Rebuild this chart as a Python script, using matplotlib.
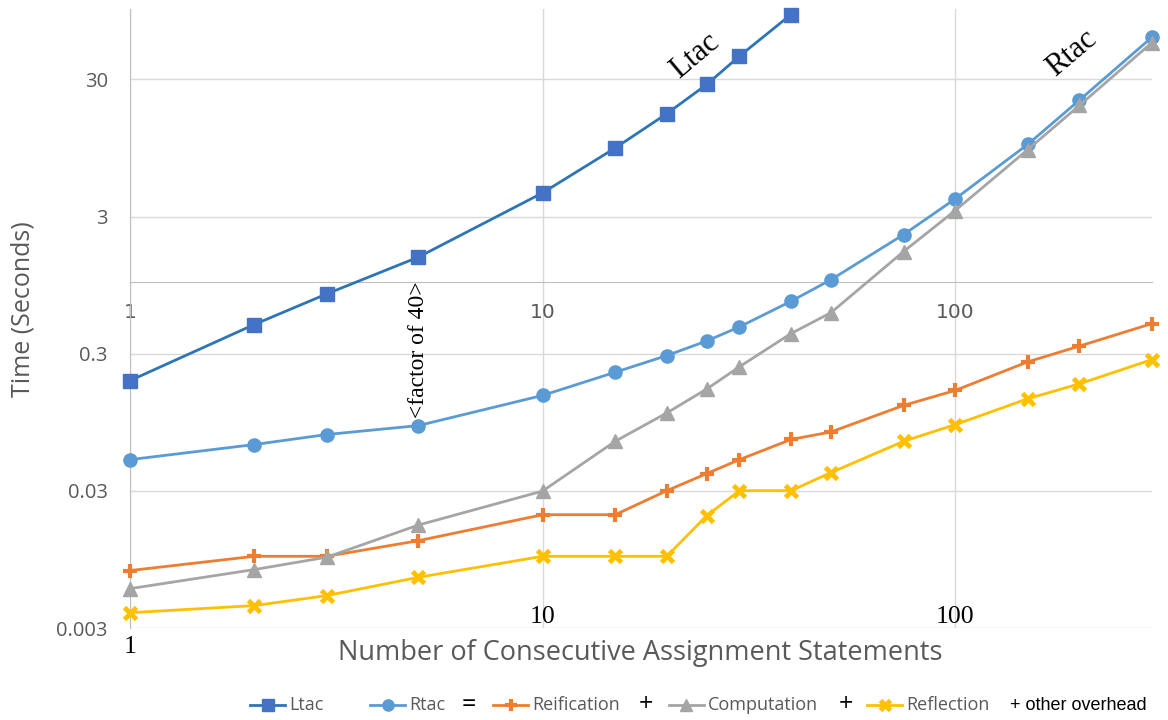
import matplotlib
matplotlib.use('Agg')
import matplotlib.pyplot as plt
from matplotlib.lines import Line2D

# statements per run
x_ltac = [1, 2, 3, 5, 10, 15, 20, 25, 30, 40]
x_all = [1, 2, 3, 5, 10, 15, 20, 25, 30, 40, 50, 75, 100, 150, 200, 300]

# time in seconds
ltac = [0.191, 0.49, 0.82, 1.52, 4.47, 9.5, 16.9, 27.6, 44.4, 89.3]
rtac = [0.0507, 0.0653, 0.0773, 0.0898, 0.149, 0.220, 0.291, 0.372, 0.471,
        0.724, 1.04, 2.22, 4.04, 10.1, 21.2, 61.1]
reification = [0.00787, 0.0100, 0.0100, 0.0130, 0.0201, 0.0201, 0.0301, 0.0401,
               0.0507, 0.0711, 0.0807, 0.126, 0.162, 0.262, 0.341, 0.498]
computation = [0.00581, 0.0080, 0.00985, 0.0169, 0.0299, 0.069, 0.111, 0.166,
               0.241, 0.421, 0.598, 1.67, 3.32, 9.25, 19.4, 55.8]
reflection = [0.00388, 0.00437, 0.00517, 0.00703, 0.0100, 0.0100, 0.0100, 0.0198,
              0.0301, 0.0301, 0.0408, 0.069, 0.0912, 0.141, 0.181, 0.272]

y_ticks = [0.003, 0.03, 0.3, 3, 30]
y_ticklabels = ['0.003', '0.03', '0.3', '3', '30']
x_ticks = [1, 10, 100]
x_ticklabels = ['1', '10', '100']

SANS = 'Open Sans'
SERIF = 'Liberation Serif'
GRAY_TXT = '#595959'

W, H = 1168, 720
fig = plt.figure(figsize=(W / 100, H / 100), dpi=100)
ax = fig.add_axes([130 / W, 1 - 628 / H, (1152 - 130) / W, (628 - 9) / H])

styles = [
    ('Ltac', x_ltac, ltac, dict(color='#2E75B6', marker='s', ms=9.5, mfc='#4472C4', mec='#4472C4')),
    ('Rtac', x_all, rtac, dict(color='#5B9BD5', marker='o', ms=9.5, mfc='#5B9BD5', mec='#5B9BD5')),
    ('Reification', x_all, reification, dict(color='#ED7D31', marker='+', ms=10, mew=3)),
    ('Computation', x_all, computation, dict(color='#A5A5A5', marker='^', ms=10, mfc='#A5A5A5', mec='#A5A5A5')),
    ('Reflection', x_all, reflection, dict(color='#FFC000', marker='x', ms=9, mew=3.5)),
]
for name, xs, ys, st in styles:
    ax.plot(xs, ys, lw=2.0, label=name, clip_on=False, zorder=3, **st)

ax.set_xscale('log')
ax.set_yscale('log')
ax.set_xlim(1, 300)
ax.set_ylim(0.003, 98)
ax.minorticks_off()
ax.set_yticks(y_ticks)
ax.set_yticklabels(y_ticklabels)
ax.set_xticks(x_ticks)
ax.set_xticklabels(x_ticklabels)
ax.tick_params(axis='y', length=0, pad=16, labelsize=14.5, labelcolor=GRAY_TXT)
ax.tick_params(axis='x', length=0, pad=15, labelsize=14.5, labelcolor=GRAY_TXT)
for lab in ax.get_xticklabels() + ax.get_yticklabels():
    lab.set_fontfamily(SANS)

ax.grid(True, color='#D9D9D9', lw=1.0, zorder=0)
ax.set_axisbelow(True)
for s in ['top', 'right']:
    ax.spines[s].set_visible(False)
ax.spines['bottom'].set_position(('data', 1))
ax.spines['bottom'].set_color('#BFBFBF')
ax.spines['left'].set_color('#BFBFBF')

ax.set_ylabel('Time (Seconds)', fontsize=18, color=GRAY_TXT, family=SANS)
ax.yaxis.set_label_coords(-(130 - 36) / 1022, 0.5 + (319 - 310) / 619)
ax.set_xlabel('Number of Consecutive Assignment Statements', fontsize=19.5,
              color=GRAY_TXT, family=SANS)
ax.xaxis.set_label_coords((640 - 130) / 1022, -(639 - 628) / 619)

# hand-placed notes
ax.text(23.4, 44.8, 'Ltac', rotation=40, fontsize=22, family=SERIF,
        ha='center', va='center')
ax.text(192, 46.4, 'Rtac', rotation=40, fontsize=22, family=SERIF,
        ha='center', va='center')
ax.text(5, 0.32, '<factor of 40>', rotation=90, fontsize=17, family=SERIF,
        ha='center', va='center')
ax.annotate('1', (1, 0.003), xytext=(0, -14), textcoords='offset points',
            ha='center', va='center', fontsize=18.5, family=SERIF, annotation_clip=False)
for xv, lab in [(10, '10'), (100, '100')]:
    ax.annotate(lab, (xv, 0.003), xytext=(0, 8), textcoords='offset points',
                ha='center', va='center', fontsize=18.5, family=SERIF, annotation_clip=False)

# legend row with the sum written between the entries
ly = 1 - 705 / H
handle_x = [250, 370, 493, 669, 867]
for (name, xs, ys, st), hx in zip(styles, handle_x):
    mst = dict(st)
    mst['ms'] = st['ms'] * 0.85
    fig.add_artist(Line2D([hx / W, (hx + 35) / W], [ly, ly], lw=2.0, **{k: v for k, v in mst.items() if k != 'marker'}))
    fig.add_artist(Line2D([(hx + 17.5) / W], [ly], lw=0, **mst))
    fig.text((hx + 39) / W, ly, name, fontsize=13, color=GRAY_TXT, family=SANS,
             ha='left', va='center')
for sx, sym in [(469, '='), (646, '+'), (846, '+')]:
    fig.text(sx / W, ly, sym, fontsize=18, color='black', family=SANS,
             ha='center', va='center')
fig.text(1010 / W, ly, '+ other overhead', fontsize=13, color='black',
         family='Liberation Sans', ha='left', va='center')

fig.savefig('out.png', dpi=100)
